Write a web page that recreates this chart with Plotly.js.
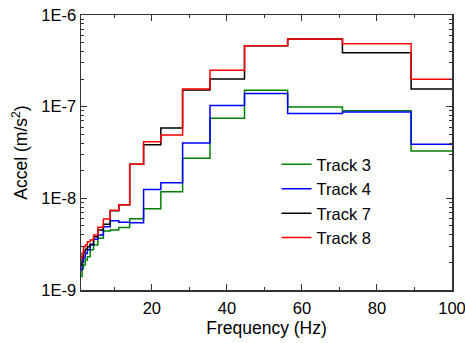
<!DOCTYPE html>
<html>
<head>
<meta charset="utf-8">
<script src="https://cdn.plot.ly/plotly-3.0.1.min.js"></script>
<style>html,body{margin:0;padding:0;background:#fff}#chart{width:465px;height:343px}</style>
</head>
<body>
<div id="chart"></div>
<script>
// Third-octave band edges (Hz)
const bandEdges = [1.12, 1.41, 1.78, 2.24, 2.82, 3.55, 4.47, 5.62, 7.08, 8.91, 11.2, 14.1, 17.8, 22.4, 28.2, 35.5, 44.7, 56.2, 70.8, 89.1, 112];

// Band levels (m/s^2), one per band
const track3 = [1.4e-9, 1.7e-9, 1.87e-9, 2.13e-9, 2.31e-9, 2.74e-9, 3.1e-9, 3.66e-9, 4.4e-9, 4.5e-9, 4.8e-9, 6.0e-9, 7.7e-9, 1.18e-8, 2.73e-8, 7.46e-8, 1.51e-7, 9.9e-8, 9.03e-8, 3.28e-8];
const track4 = [1.65e-9, 2.0e-9, 2.23e-9, 2.5e-9, 2.74e-9, 3.1e-9, 3.57e-9, 3.98e-9, 4.9e-9, 5.7e-9, 5.5e-9, 5.4e-9, 1.25e-8, 1.48e-8, 4.02e-8, 1.03e-7, 1.39e-7, 8.4e-8, 8.75e-8, 3.88e-8];
const track7 = [1.87e-9, 2.31e-9, 2.6e-9, 2.78e-9, 2.97e-9, 3.15e-9, 3.82e-9, 4.52e-9, 5.21e-9, 7.3e-9, 8.5e-9, 2.35e-8, 3.85e-8, 5.85e-8, 1.52e-7, 2.0e-7, 4.63e-7, 5.47e-7, 3.88e-7, 1.56e-7];
const track8 = [2.22e-9, 2.51e-9, 2.97e-9, 3.1e-9, 3.36e-9, 3.51e-9, 3.98e-9, 4.83e-9, 5.95e-9, 7.4e-9, 8.5e-9, 2.35e-8, 4.15e-8, 4.91e-8, 1.56e-7, 2.49e-7, 4.63e-7, 5.47e-7, 4.87e-7, 1.99e-7];

const seriesNames = ['Track 3', 'Track 4', 'Track 7', 'Track 8'];
const seriesColors = ['#008000', '#0000ff', '#000000', '#ff0000'];
const seriesData = [track3, track4, track7, track8];

const yTickVals = [1e-9, 1e-8, 1e-7, 1e-6];
const yTickText = ['1E-9', '1E-8', '1E-7', '1E-6'];
const xTickVals = [20, 40, 60, 80, 100];

const traces = seriesData.map((vals, i) => ({
  x: bandEdges,
  y: vals.concat([vals[vals.length - 1]]),
  type: 'scatter',
  mode: 'lines',
  line: {shape: 'hv', color: seriesColors[i], width: 1.5},
  name: seriesNames[i],
  legendgroup: 'g' + i
}));

const fontFam = 'Liberation Sans, Arial, sans-serif';
const axisCommon = {
  showline: true, linecolor: '#333', linewidth: 1.5, mirror: 'allticks',
  ticks: 'inside', ticklen: 6, tickwidth: 1, tickcolor: '#333',
  showgrid: false, zeroline: false,
  ticklabeloverflow: 'allow',
  tickfont: {family: fontFam, size: 16.5, color: '#000'}
};

const layout = {
  width: 465, height: 343,
  margin: {l: 81, r: 13, t: 15, b: 53},
  paper_bgcolor: '#fff', plot_bgcolor: '#fff',
  showlegend: true,
  legend: {
    x: 0.527, y: 0.52, xanchor: 'left', yanchor: 'top',
    bgcolor: 'rgba(0,0,0,0)', borderwidth: 0,
    font: {family: fontFam, size: 16.5, color: '#000'},
    tracegroupgap: 0
  },
  xaxis: Object.assign({}, axisCommon, {
    range: [1.12, 100], tickvals: xTickVals,
    ticklabelstandoff: 3,
    minor: {ticks: 'inside', ticklen: 3, dtick: 10, tick0: 0, tickcolor: '#333'},
    title: {text: 'Frequency (Hz)', font: {family: fontFam, size: 17.5, color: '#000'}, standoff: 5}
  }),
  yaxis: Object.assign({}, axisCommon, {
    type: 'log', range: [-9, -6],
    tickvals: yTickVals, ticktext: yTickText,
    minor: {ticks: 'inside', ticklen: 3, dtick: 'D1', tickcolor: '#333'},
    title: {text: 'Accel (m/s<sup>2</sup>)', font: {family: fontFam, size: 17.5, color: '#000'}, standoff: 9}
  })
};

Plotly.newPlot('chart', traces, layout, {displayModeBar: false, staticPlot: true});
</script>
</body>
</html>
